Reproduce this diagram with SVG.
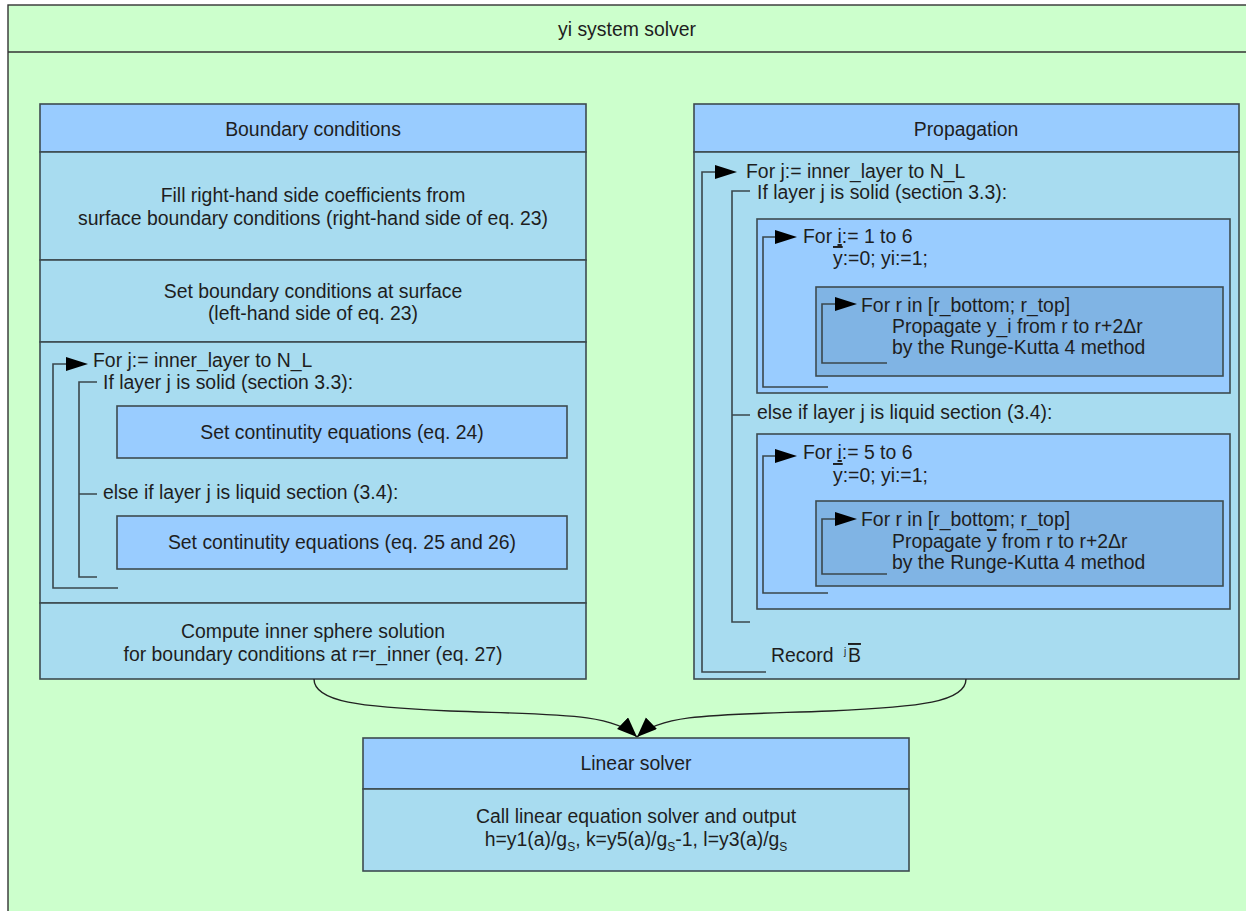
<svg xmlns="http://www.w3.org/2000/svg" xmlns:xlink="http://www.w3.org/1999/xlink" width="1246" height="911" viewBox="0 0 1246 911">
<defs>
<style>
text{font-family:"Liberation Sans",Arial,sans-serif;font-size:19.4px;fill:#1e1e1e}
.c{text-anchor:middle}
.box{stroke:#3d4b50;stroke-width:1.6}
.hdr{fill:#99ccff}
.body{fill:#a8dcf0}
.in1{fill:#99ccff}
.in2{fill:#80b4e4}
.br{fill:none;stroke:#3a474c;stroke-width:1.6}
.con{fill:none;stroke:#222;stroke-width:1.4}
</style>
<path id="ah" d="M0,0 L-22,-7 L-22,7 Z" fill="#000"/>
<marker id="cm" markerUnits="userSpaceOnUse" markerWidth="24" markerHeight="24" refX="20" refY="8" orient="auto">
<path d="M0,0 L20,8 L0,16 Z" fill="#000"/>
</marker>
</defs>

<g id="frame">
<rect x="8" y="5" width="1260" height="920" fill="#ccffcc" stroke="#333" stroke-width="1.4"/>
<line x1="8" y1="52" x2="1246" y2="52" stroke="#333" stroke-width="1.4"/>
<text class="c" x="627" y="36">yi system solver</text>
</g>

<g id="boundary">
<rect class="box hdr" x="40" y="104" width="546" height="48"/>
<text class="c" x="313" y="136">Boundary conditions</text>
<rect class="box body" x="40" y="152" width="546" height="108"/>
<text class="c" x="313" y="202">Fill right-hand side coefficients from</text>
<text class="c" x="313" y="225">surface boundary conditions (right-hand side of eq. 23)</text>
<rect class="box body" x="40" y="260" width="546" height="82"/>
<text class="c" x="313" y="298">Set boundary conditions at surface</text>
<text class="c" x="313" y="320">(left-hand side of eq. 23)</text>
<rect class="box body" x="40" y="342" width="546" height="261"/>
<path class="br" d="M118,588 H53 V364 H70"/>
<use xlink:href="#ah" x="88" y="364"/>
<text x="93" y="367">For j:= inner_layer to N_L</text>
<path class="br" d="M97,382 H79 V577 H97 M79,494 H97"/>
<text x="103" y="389">If layer j is solid (section 3.3):</text>
<rect class="box in1" x="117" y="406" width="450" height="52"/>
<text class="c" x="342" y="439">Set continutity equations (eq. 24)</text>
<text x="103" y="499">else if layer j is liquid section (3.4):</text>
<rect class="box in1" x="117" y="516" width="450" height="53"/>
<text class="c" x="342" y="549">Set continutity equations (eq. 25 and 26)</text>
<rect class="box body" x="40" y="603" width="546" height="76"/>
<text class="c" x="313" y="638">Compute inner sphere solution</text>
<text class="c" x="313" y="661">for boundary conditions at r=r_inner (eq. 27)</text>
</g>

<g id="propagation">
<rect class="box hdr" x="694" y="104" width="545" height="48"/>
<text class="c" x="966" y="136">Propagation</text>
<rect class="box body" x="694" y="152" width="545" height="527"/>
<path class="br" d="M766,672 H702 V172 H718"/>
<use xlink:href="#ah" x="737" y="172"/>
<text x="746" y="178">For j:= inner_layer to N_L</text>
<path class="br" d="M750,191 H732 V622 H750 M732,415 H750"/>
<text x="757" y="199">If layer j is solid (section 3.3):</text>

<rect class="box in1" x="757" y="219" width="473" height="174"/>
<path class="br" d="M828,387 H763 V237 H778"/>
<use xlink:href="#ah" x="797" y="237"/>
<text x="803" y="243">For <tspan style="text-decoration:underline">i</tspan>:= 1 to 6</text>
<text x="833" y="265"><tspan style="text-decoration:overline">y</tspan>:=0; yi:=1;</text>
<rect class="box in2" x="816" y="287" width="407" height="89"/>
<path class="br" d="M887,363 H822 V304 H838"/>
<use xlink:href="#ah" x="857" y="304"/>
<text x="861" y="312">For r in [r_bottom; r_top]</text>
<text x="892" y="333">Propagate y_i from r to r+2Δr</text>
<text x="892" y="354">by the Runge-Kutta 4 method</text>

<text x="757" y="419">else if layer j is liquid section (3.4):</text>
<rect class="box in1" x="757" y="434" width="473" height="175"/>
<path class="br" d="M828,593 H763 V456 H778"/>
<use xlink:href="#ah" x="797" y="456"/>
<text x="803" y="459">For <tspan style="text-decoration:underline">i</tspan>:= 5 to 6</text>
<text x="833" y="482"><tspan style="text-decoration:overline">y</tspan>:=0; yi:=1;</text>
<rect class="box in2" x="816" y="501" width="407" height="85"/>
<path class="br" d="M887,574 H822 V519 H838"/>
<use xlink:href="#ah" x="857" y="519"/>
<text x="861" y="526">For r in [r_bottom; r_top]</text>
<text x="892" y="548">Propagate <tspan style="text-decoration:overline">y</tspan> from r to r+2Δr</text>
<text x="892" y="569">by the Runge-Kutta 4 method</text>

<text x="771" y="662">Record</text>
<text x="844" y="655" style="font-size:10px">j</text>
<text x="848" y="662"><tspan style="text-decoration:overline">B</tspan></text>
</g>

<g id="linear">
<rect class="box hdr" x="363" y="738" width="546" height="51"/>
<text class="c" x="636" y="770">Linear solver</text>
<rect class="box body" x="363" y="789" width="546" height="82"/>
<text class="c" x="636" y="823">Call linear equation solver and output</text>
<text class="c" x="636" y="846">h=y1(a)/g<tspan dy="5" style="font-size:12px">S</tspan><tspan dy="-5">, k=y5(a)/g</tspan><tspan dy="5" style="font-size:12px">S</tspan><tspan dy="-5">-1, l=y3(a)/g</tspan><tspan dy="5" style="font-size:12px">S</tspan></text>
</g>

<g id="connectors">
<path class="con" d="M314,679 C314,702 360,707 450,711 C560,715 612,713 637,737" marker-end="url(#cm)"/>
<path class="con" d="M966,679 C966,702 920,707 830,711 C720,715 662,713 637,737" marker-end="url(#cm)"/>
</g>
</svg>
